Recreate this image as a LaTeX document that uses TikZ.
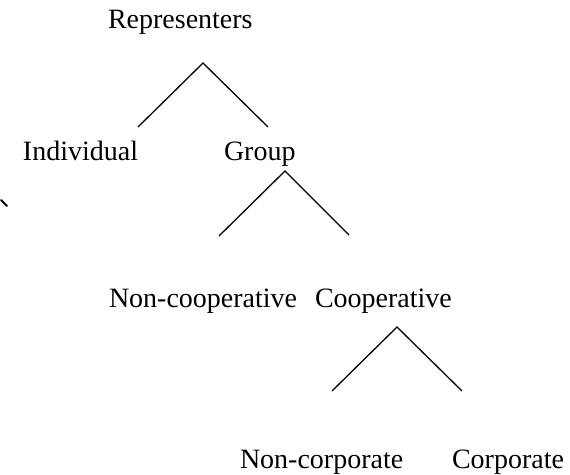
\documentclass[tikz,border=0pt]{standalone}
\usepackage{fontspec}
\setmainfont{Liberation Serif}
\begin{document}
\begin{tikzpicture}[x=1pt,y=-1pt,
  lbl/.style={anchor=base west,inner sep=0pt,outer sep=0pt,font=\fontsize{28}{32}\selectfont},
  branch/.style={line width=1.3pt,line cap=butt}]
\useasboundingbox (0,0) rectangle (570,474);
% labels
\node[lbl] (rep) at (108,28) {Representers};
\node[lbl] (ind) at (23,160) {Individual};
\node[lbl] (grp) at (224,160) {Group};
\node[lbl] (nco) at (109,307) {Non-cooperative};
\node[lbl] (coo) at (315,307) {Cooperative};
\node[lbl] (ncp) at (240,468) {Non-corporate};
\node[lbl] (cor) at (452,468) {Corporate};
% branch points
\coordinate (a1) at (203,63);
\coordinate (l1) at (138,127);
\coordinate (r1) at (268,127);
\coordinate (a2) at (285,171);
\coordinate (l2) at (219,236);
\coordinate (r2) at (349,235);
\coordinate (a3) at (397,327);
\coordinate (l3) at (332,391);
\coordinate (r3) at (462,391);
\draw[branch] (l1) -- (a1) -- (r1);
\draw[branch] (l2) -- (a2) -- (r2);
\draw[branch] (l3) -- (a3) -- (r3);
% stray mark
\coordinate (t1) at (1,200);
\coordinate (t2) at (7,206);
\draw[line width=2pt,line cap=round] (t1) -- (t2);
\end{tikzpicture}
\end{document}
